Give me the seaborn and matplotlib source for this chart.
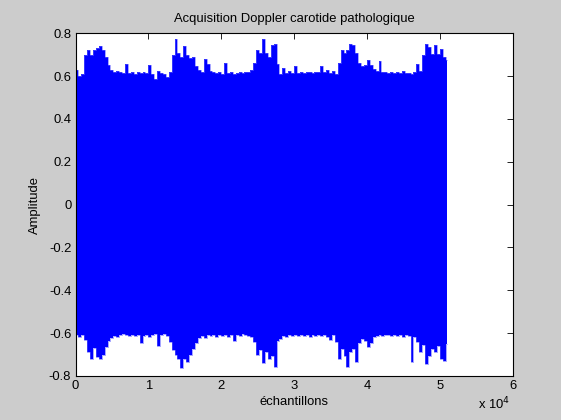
import numpy as np
import pandas as pd
import matplotlib
matplotlib.use("Agg")
import matplotlib.pyplot as plt
import seaborn as sns

# Envelope of the Doppler acquisition, one reading per block of 400 samples
block_size = 400
upper_env = [
    0.63, 0.60, 0.61, 0.70, 0.72, 0.70, 0.72, 0.73, 0.74, 0.72,
    0.69, 0.65, 0.63, 0.62, 0.625, 0.62, 0.615, 0.655, 0.615, 0.62,
    0.61, 0.62, 0.615, 0.62, 0.615, 0.65, 0.61, 0.585, 0.625, 0.615,
    0.61, 0.595, 0.62, 0.70, 0.775, 0.71, 0.69, 0.74, 0.70, 0.685,
    0.69, 0.645, 0.63, 0.62, 0.68, 0.655, 0.625, 0.62, 0.615, 0.62,
    0.61, 0.66, 0.615, 0.62, 0.61, 0.615, 0.62, 0.615, 0.62, 0.62,
    0.63, 0.66, 0.72, 0.71, 0.775, 0.71, 0.69, 0.745, 0.75, 0.655,
    0.61, 0.64, 0.615, 0.625, 0.615, 0.645, 0.615, 0.62, 0.615, 0.62,
    0.62, 0.615, 0.62, 0.62, 0.645, 0.62, 0.63, 0.615, 0.625, 0.61,
    0.66, 0.72, 0.71, 0.72, 0.75, 0.745, 0.71, 0.66, 0.645, 0.65,
    0.675, 0.65, 0.635, 0.625, 0.67, 0.62, 0.62, 0.615, 0.62, 0.615,
    0.62, 0.615, 0.625, 0.615, 0.615, 0.61, 0.62, 0.655, 0.625, 0.70,
    0.75, 0.735, 0.705, 0.745, 0.705, 0.725, 0.69, 0.675,
]
lower_env = [
    -0.61, -0.62, -0.61, -0.63, -0.69, -0.72, -0.67, -0.71, -0.72, -0.70,
    -0.665, -0.635, -0.625, -0.615, -0.62, -0.61, -0.605, -0.61, -0.615, -0.61,
    -0.615, -0.61, -0.645, -0.615, -0.61, -0.62, -0.61, -0.605, -0.66, -0.61,
    -0.605, -0.615, -0.64, -0.68, -0.70, -0.72, -0.765, -0.72, -0.735, -0.70,
    -0.675, -0.645, -0.625, -0.615, -0.625, -0.61, -0.615, -0.61, -0.62, -0.61,
    -0.615, -0.61, -0.62, -0.61, -0.635, -0.61, -0.615, -0.605, -0.61, -0.615,
    -0.62, -0.64, -0.70, -0.68, -0.74, -0.69, -0.72, -0.705, -0.76, -0.635,
    -0.628, -0.615, -0.62, -0.61, -0.615, -0.61, -0.615, -0.61, -0.615, -0.61,
    -0.62, -0.61, -0.615, -0.61, -0.615, -0.61, -0.62, -0.63, -0.61, -0.64,
    -0.72, -0.675, -0.705, -0.76, -0.69, -0.675, -0.735, -0.645, -0.628, -0.635,
    -0.665, -0.645, -0.62, -0.615, -0.61, -0.615, -0.61, -0.61, -0.615, -0.61,
    -0.615, -0.61, -0.62, -0.61, -0.615, -0.735, -0.62, -0.64, -0.69, -0.655,
    -0.745, -0.705, -0.675, -0.69, -0.66, -0.72, -0.73, -0.65,
]
x_ticks = [0, 10000, 20000, 30000, 40000, 50000, 60000]
x_tick_labels = ["0", "1", "2", "3", "4", "5", "6"]
y_ticks = [-0.8, -0.6, -0.4, -0.2, 0, 0.2, 0.4, 0.6, 0.8]
y_tick_labels = ["-0.8", "-0.6", "-0.4", "-0.2", "0", "0.2", "0.4", "0.6", "0.8"]

sample = np.arange(len(upper_env)) * block_size + block_size / 2
df = pd.DataFrame({"sample": sample, "upper": upper_env, "lower": lower_env})

sns.set_theme(style="white")
plt.rcParams["font.family"] = ["Liberation Sans", "DejaVu Sans"]
plt.rcParams["font.size"] = 9.4
plt.rcParams["text.color"] = "black"
plt.rcParams["axes.labelcolor"] = "black"

fig = plt.figure(figsize=(5.61, 4.20), dpi=100, facecolor="#cccccc")
ax = fig.add_axes([0.1346, 0.1048, 0.779, 0.816])
ax.set_facecolor("white")

blue = "#0000ff"
ax.fill_between(df["sample"], df["lower"], df["upper"], step="mid",
                color=blue, linewidth=0)
sns.lineplot(data=df, x="sample", y="upper", ax=ax, color="#6060ff",
             linewidth=0.4, drawstyle="steps-mid")
sns.lineplot(data=df, x="sample", y="lower", ax=ax, color="#6060ff",
             linewidth=0.4, drawstyle="steps-mid")

ax.set_xlim(0, 60000)
ax.set_ylim(-0.8, 0.8)
ax.set_xticks(x_ticks)
ax.set_xticklabels(x_tick_labels)
ax.set_yticks(y_ticks)
ax.set_yticklabels(y_tick_labels)
ax.tick_params(direction="in", length=4, width=0.6, top=True, right=True,
               labelsize=9.4, colors="black", pad=3)
for side in ax.spines.values():
    side.set_color("black")
    side.set_linewidth(0.8)

ax.set_title("Acquisition Doppler carotide pathologique", fontsize=9.4,
             pad=8, color="black")
ax.set_xlabel("échantillons", fontsize=9.4, labelpad=3)
ax.set_ylabel("Amplitude", fontsize=9.4, labelpad=6)
fig.text(0.852, 0.018, "x 10$^{4}$", fontsize=9.4, ha="left", va="bottom")

fig.savefig("out.png", dpi=100, facecolor=fig.get_facecolor())
